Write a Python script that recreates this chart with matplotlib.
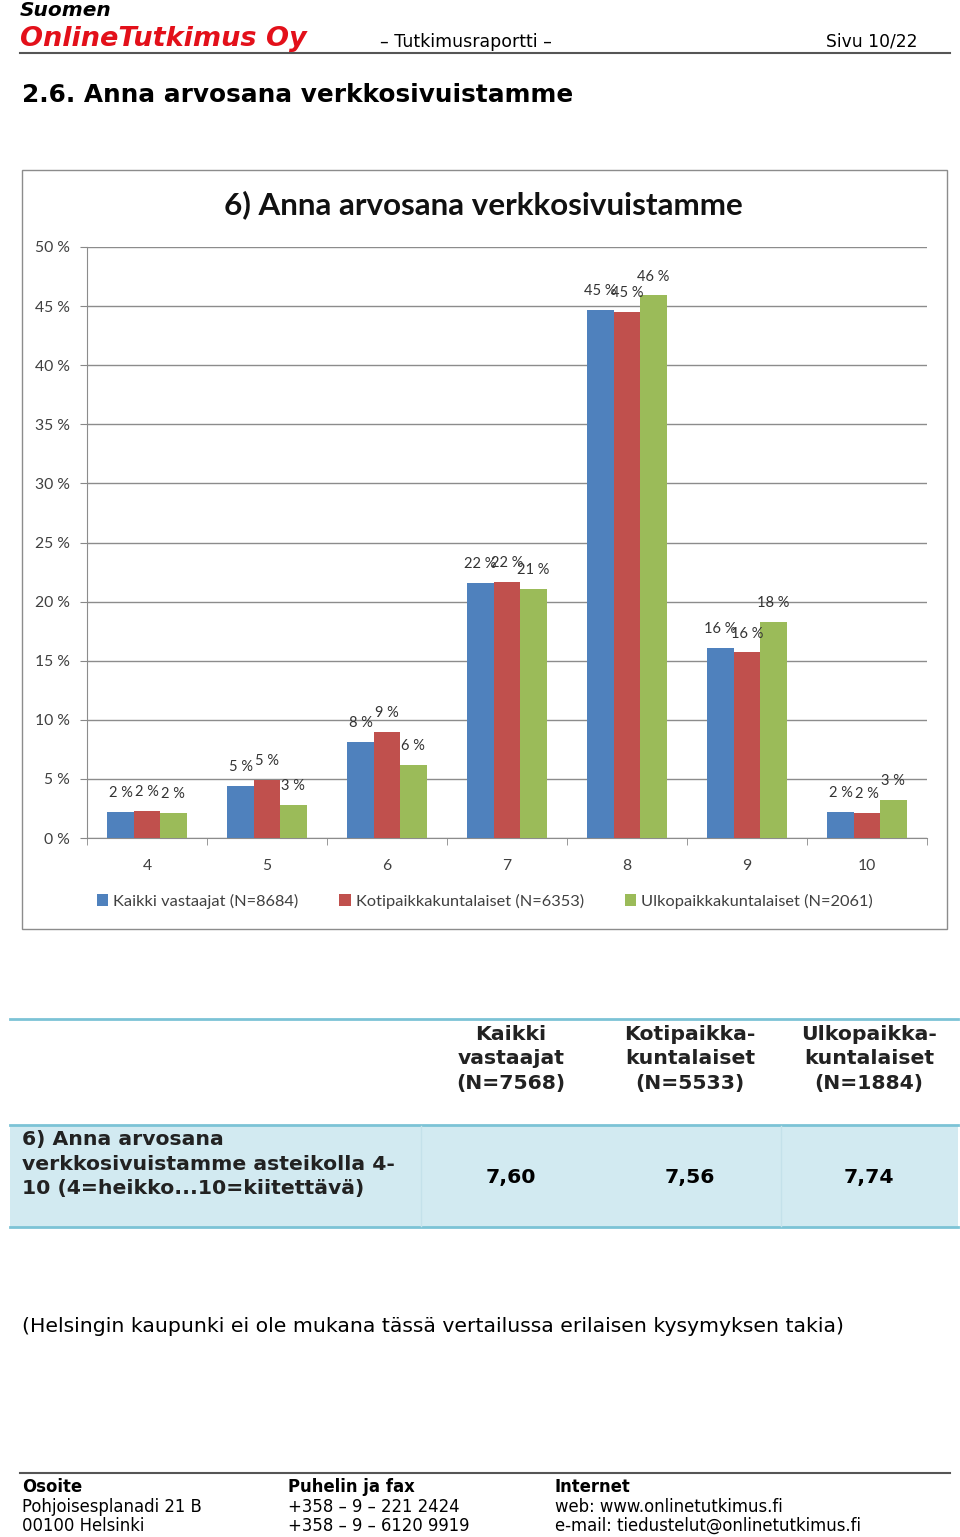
import numpy as np
import matplotlib
matplotlib.use('Agg')
import matplotlib.pyplot as plt
from matplotlib.patches import Rectangle
from matplotlib.lines import Line2D

# Data
grades = ['4', '5', '6', '7', '8', '9', '10']
series_names = ['Kaikki vastaajat (N=8684)', 'Kotipaikkakuntalaiset (N=6353)',
                'Ulkopaikkakuntalaiset (N=2061)']
kaikki = [2.2, 4.4, 8.1, 21.6, 44.7, 16.1, 2.2]
koti = [2.3, 4.9, 9.0, 21.7, 44.5, 15.7, 2.1]
ulko = [2.1, 2.8, 6.2, 21.1, 45.9, 18.3, 3.2]
labels_kaikki = ['2 %', '5 %', '8 %', '22 %', '45 %', '16 %', '2 %']
labels_koti = ['2 %', '5 %', '9 %', '22 %', '45 %', '16 %', '2 %']
labels_ulko = ['2 %', '3 %', '6 %', '21 %', '46 %', '18 %', '3 %']
colors = ['#4F81BD', '#C0504D', '#9BBB59']

table_headers = ['Kaikki\nvastaajat\n(N=7568)', 'Kotipaikka-\nkuntalaiset\n(N=5533)',
                 'Ulkopaikka-\nkuntalaiset\n(N=1884)']
table_row = '6) Anna arvosana\nverkkosivuistamme asteikolla 4-\n10 (4=heikko...10=kiitettävä)'
table_values = ['7,60', '7,56', '7,74']

W, H = 960, 1537


def fx(x):
    return x / W


def fy(y):
    return 1 - y / H


fig = plt.figure(figsize=(W / 100, H / 100), dpi=100)
doc_font = 'DejaVu Sans'
chart_font = 'Lato'

# header
fig.text(fx(20), fy(11), 'Suomen', fontsize=14.5, fontweight='bold', style='italic',
         family=doc_font, va='center')
fig.text(fx(20), fy(39), 'OnlineTutkimus Oy', fontsize=19.5, fontweight='bold', style='italic',
         family=doc_font, color='#E3101A', va='center')
fig.text(fx(380), fy(42), '– Tutkimusraportti –', fontsize=12.5, family=doc_font, va='center')
fig.text(fx(918), fy(42), 'Sivu 10/22', fontsize=12.3, family=doc_font, va='center', ha='right')
fig.add_artist(Line2D([fx(20), fx(950)], [fy(53), fy(53)], color='#555555', lw=1.5))

fig.text(fx(22), fy(95), '2.6. Anna arvosana verkkosivuistamme', fontsize=17.8,
         fontweight='bold', family=doc_font, va='center')

# chart frame
fig.add_artist(Rectangle((fx(22), fy(929)), fx(947) - fx(22), fy(170) - fy(929),
                         transform=fig.transFigure, fill=False, edgecolor='#8c8c8c', lw=1))
fig.text(fx(483), fy(205), '6) Anna arvosana verkkosivuistamme', fontsize=22.6,
         fontweight='bold', family=chart_font, ha='center', va='center', color='#111111')

ax = fig.add_axes([fx(87), fy(838), fx(927) - fx(87), fy(247) - fy(838)])
x = np.arange(len(grades))
bw = 0.22
for i, (vals, labs) in enumerate([(kaikki, labels_kaikki), (koti, labels_koti), (ulko, labels_ulko)]):
    pos = x + (i - 1) * bw
    ax.bar(pos, vals, width=bw, color=colors[i], zorder=3, label=series_names[i])
    for p, v, l in zip(pos, vals, labs):
        ax.text(p, v + 1.0, l, ha='center', va='bottom', fontsize=10.5,
                family=chart_font, color='#333333', zorder=4)

ax.set_xlim(-0.5, len(grades) - 0.5)
ax.set_ylim(0, 50)
ax.set_yticks(np.arange(0, 51, 5))
ax.set_yticklabels([f'{v} %' for v in range(0, 51, 5)], family=chart_font, fontsize=11.3,
                   color='#404040')
ax.set_xticks(x)
ax.set_xticklabels(grades, family=chart_font, fontsize=11.3, color='#404040')
ax.set_xticks(np.arange(-0.5, len(grades), 1), minor=True)
ax.tick_params(axis='x', which='major', length=0, pad=15)
ax.tick_params(axis='x', which='minor', length=5, color='#888888')
ax.tick_params(axis='y', length=5, color='#888888', pad=7)
ax.grid(axis='y', color='#8c8c8c', lw=1, zorder=0)
for s in ['top', 'right']:
    ax.spines[s].set_visible(False)
ax.spines['left'].set_color('#8c8c8c')
ax.spines['bottom'].set_color('#8c8c8c')

leg = fig.legend(*ax.get_legend_handles_labels(), loc='center', ncol=3,
                 bbox_to_anchor=(fx(485), fy(901)), frameon=False,
                 prop={'family': chart_font, 'size': 11.8}, handlelength=0.7, handleheight=0.7,
                 handletextpad=0.3, columnspacing=2.5)
for t in leg.get_texts():
    t.set_color('#404040')

# table
fig.add_artist(Line2D([fx(10), fx(958)], [fy(1019), fy(1019)], color='#7cc3d6', lw=2))
fig.add_artist(Rectangle((fx(10), fy(1227)), fx(958) - fx(10), fy(1125) - fy(1227),
                         transform=fig.transFigure, color='#D2EAF1', lw=0))
fig.add_artist(Line2D([fx(10), fx(958)], [fy(1125), fy(1125)], color='#7cc3d6', lw=2))
fig.add_artist(Line2D([fx(10), fx(958)], [fy(1227), fy(1227)], color='#7cc3d6', lw=2))
for xs in [421, 781]:
    fig.add_artist(Line2D([fx(xs), fx(xs)], [fy(1126), fy(1226)], color='#c4e1ea', lw=1))
col_x = [511, 690, 869]
for cx, h, v in zip(col_x, table_headers, table_values):
    fig.text(fx(cx), fy(1059), h, fontsize=14.7, fontweight='bold', family=doc_font,
             ha='center', va='center', linespacing=1.35, color='#222222')
    fig.text(fx(cx), fy(1177), v, fontsize=14.7, fontweight='bold', family=doc_font,
             ha='center', va='center')
fig.text(fx(22), fy(1164), table_row, fontsize=14.7, fontweight='bold', family=doc_font,
         ha='left', va='center', linespacing=1.35, color='#222222')

fig.text(fx(22), fy(1327), '(Helsingin kaupunki ei ole mukana tässä vertailussa erilaisen kysymyksen takia)',
         fontsize=14.7, family=doc_font, va='center')

# footer
fig.add_artist(Line2D([fx(20), fx(950)], [fy(1473), fy(1473)], color='#555555', lw=1.5))
footer = [
    ('Osoite', 'Pohjoisesplanadi 21 B', '00100 Helsinki'),
    ('Puhelin ja fax', '+358 – 9 – 221 2424', '+358 – 9 – 6120 9919'),
    ('Internet', 'web: www.onlinetutkimus.fi', 'e-mail: tiedustelut@onlinetutkimus.fi'),
]
for cx, (head, l1, l2) in zip([22, 288, 555], footer):
    fig.text(fx(cx), fy(1487), head, fontsize=11.9, fontweight='bold', family=doc_font, va='center')
    fig.text(fx(cx), fy(1507), l1, fontsize=11.9, family=doc_font, va='center')
    fig.text(fx(cx), fy(1526), l2, fontsize=11.9, family=doc_font, va='center')

plt.savefig('out.png', dpi=100)
